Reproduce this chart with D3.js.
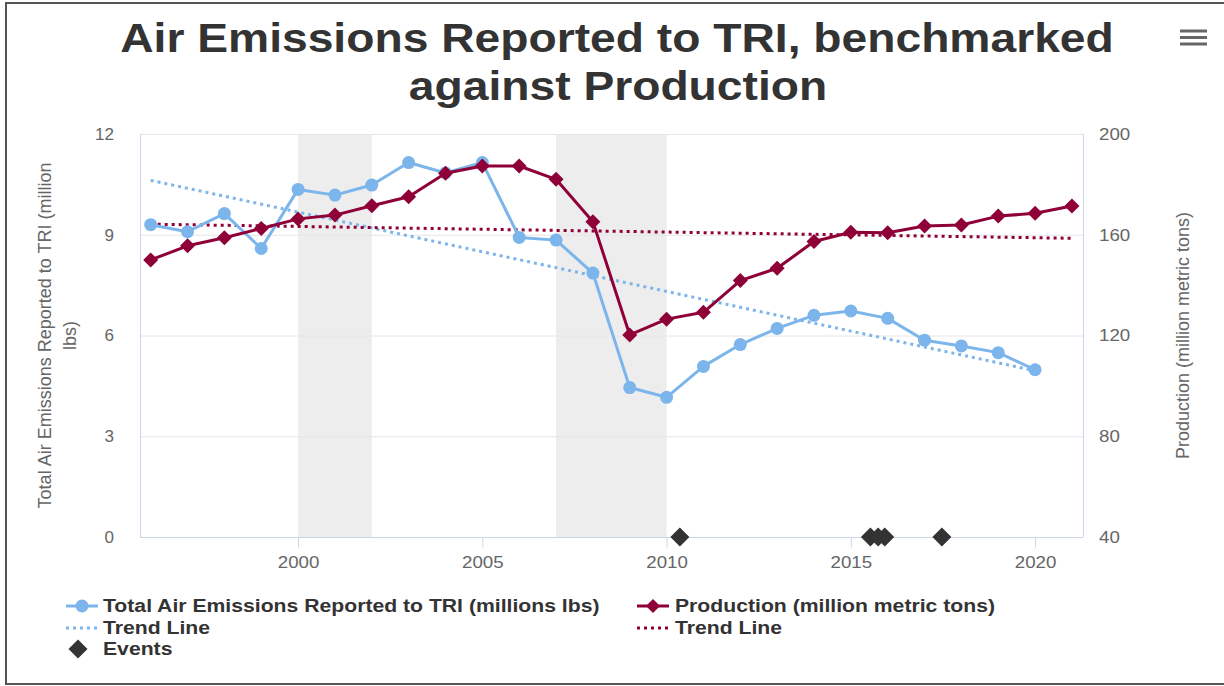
<!DOCTYPE html>
<html>
<head>
<meta charset="utf-8">
<script src="https://cdn.jsdelivr.net/npm/d3@7"></script>
<style>
  html, body { margin: 0; padding: 0; background: #fff; }
  svg { display: block; font-family: "Liberation Sans", Arial, sans-serif; }
</style>
</head>
<body>
<svg id="chart" width="1224" height="686"></svg>
<script>
// Data
const years = [1996, 1997, 1998, 1999, 2000, 2001, 2002, 2003, 2004, 2005, 2006, 2007, 2008,
  2009, 2010, 2011, 2012, 2013, 2014, 2015, 2016, 2017, 2018, 2019, 2020, 2021];
const emissions = [9.3, 9.09, 9.63, 8.59, 10.35, 10.18, 10.48, 11.15, 10.84, 11.15, 8.92, 8.84, 7.86,
  4.45, 4.16, 5.08, 5.73, 6.21, 6.6, 6.73, 6.51, 5.86, 5.69, 5.49, 4.98];
const production = [150.0, 155.6, 158.8, 162.5, 166.3, 167.8, 171.5, 175.1, 184.4, 187.3, 187.3, 182.0, 165.2,
  120.2, 126.5, 129.2, 141.8, 146.7, 157.3, 161.0, 160.8, 163.5, 163.9, 167.4, 168.5, 171.4];
const emissionsTrendYears = [1996, 2020];
const emissionsTrend = [10.62, 4.95];
const productionTrendYears = [1996, 2021];
const productionTrend = [164.2, 158.6];
const eventYears = [2010.36, 2015.53, 2015.74, 2015.92, 2017.47];
const bands = [[2000, 2002], [2007, 2010]];
const xTicks = [2000, 2005, 2010, 2015, 2020];
const leftTicks = [0, 3, 6, 9, 12];
const rightTicks = [40, 80, 120, 160, 200];

const blue = "#7cb5ec";
const red = "#8f0039";

const svg = d3.select("#chart");

// the source render is a bit wider than the fonts here, stretch text to fit
function stretch(sel, k) {
  sel.each(function() {
    const w = this.getComputedTextLength();
    d3.select(this).attr("textLength", w * k).attr("lengthAdjust", "spacingAndGlyphs");
  });
}

// Frame
svg.append("path")
  .attr("d", "M1224,3 H6 V684 H1224")
  .attr("fill", "none")
  .attr("stroke", "#555")
  .attr("stroke-width", 2);

const plot = { left: 140, right: 1083, top: 134, bottom: 537 };

const x = d3.scaleLinear().domain([1995.71, 2021.3]).range([plot.left, plot.right]);
const yL = d3.scaleLinear().domain([0, 12]).range([plot.bottom, plot.top]);
const yR = d3.scaleLinear().domain([40, 200]).range([plot.bottom, plot.top]);

// Title
const title = svg.append("g")
  .attr("fill", "#333")
  .attr("font-weight", "bold")
  .attr("font-size", 40)
  .attr("text-anchor", "middle");
title.append("text").attr("x", 617).attr("y", 52).text("Air Emissions Reported to TRI, benchmarked");
title.append("text").attr("x", 618).attr("y", 100).text("against Production");
stretch(title.selectAll("text"), 1.155);

// Menu icon
svg.append("g")
  .attr("stroke", "#666")
  .attr("stroke-width", 3)
  .selectAll("line")
  .data([31, 37.5, 44])
  .join("line")
  .attr("x1", 1180).attr("x2", 1207)
  .attr("y1", d => d).attr("y2", d => d);

// Shaded bands
svg.append("g")
  .selectAll("rect")
  .data(bands)
  .join("rect")
  .attr("x", d => x(d[0]))
  .attr("width", d => x(d[1]) - x(d[0]))
  .attr("y", plot.top)
  .attr("height", plot.bottom - plot.top)
  .attr("fill", "#ededed");

// Grid lines
svg.append("g")
  .selectAll("line")
  .data(leftTicks)
  .join("line")
  .attr("x1", plot.left).attr("x2", plot.right)
  .attr("y1", d => yL(d) + 0.5).attr("y2", d => yL(d) + 0.5)
  .attr("stroke", "#e6e6e6");

// Plot border sides
svg.append("line")
  .attr("x1", plot.left + 0.5).attr("x2", plot.left + 0.5)
  .attr("y1", plot.top).attr("y2", plot.bottom)
  .attr("stroke", "#ccd6eb");
svg.append("line")
  .attr("x1", plot.right + 0.5).attr("x2", plot.right + 0.5)
  .attr("y1", plot.top).attr("y2", plot.bottom)
  .attr("stroke", "#ccd6eb");

// X axis
const xAxis = svg.append("g")
  .attr("transform", `translate(0,${plot.bottom + 0.5})`)
  .call(d3.axisBottom(x).tickValues(xTicks).tickFormat(d3.format("d")).tickSize(10).tickPadding(8));
xAxis.select(".domain").attr("stroke", "#ccd6eb").attr("d", `M${plot.left},0H${plot.right}`);
xAxis.selectAll(".tick line").attr("stroke", "#ccd6eb");
xAxis.selectAll(".tick text")
  .attr("fill", "#666")
  .attr("font-size", 17)
  .attr("font-family", "'Liberation Sans', Arial, sans-serif");
stretch(xAxis.selectAll(".tick text"), 1.1);

// Left axis labels
const leftAxis = svg.append("g")
  .attr("transform", `translate(${plot.left},0)`)
  .call(d3.axisLeft(yL).tickValues(leftTicks).tickSize(0).tickPadding(26));
leftAxis.select(".domain").remove();
leftAxis.selectAll(".tick text")
  .attr("fill", "#666")
  .attr("font-size", 17)
  .attr("font-family", "'Liberation Sans', Arial, sans-serif");

// Right axis labels
const rightAxis = svg.append("g")
  .attr("transform", `translate(${plot.right},0)`)
  .call(d3.axisRight(yR).tickValues(rightTicks).tickSize(0).tickPadding(16));
rightAxis.select(".domain").remove();
rightAxis.selectAll(".tick text")
  .attr("fill", "#666")
  .attr("font-size", 17)
  .attr("font-family", "'Liberation Sans', Arial, sans-serif");
stretch(rightAxis.selectAll(".tick text"), 1.1);

// Axis titles
const leftTitle = svg.append("text")
  .attr("transform", `translate(0,${(plot.top + plot.bottom) / 2}) rotate(-90)`)
  .attr("text-anchor", "middle")
  .attr("fill", "#666")
  .attr("font-size", 18);
leftTitle.append("tspan").attr("x", 0).attr("y", 51).text("Total Air Emissions Reported to TRI (million");
leftTitle.append("tspan").attr("x", 0).attr("y", 76).text("lbs)");

svg.append("text")
  .attr("transform", `translate(1189,${(plot.top + plot.bottom) / 2}) rotate(-90)`)
  .attr("text-anchor", "middle")
  .attr("fill", "#666")
  .attr("font-size", 18)
  .text("Production (million metric tons)");

// Trend lines
const trendBlue = emissionsTrendYears.map((yr, i) => [yr, emissionsTrend[i]]);
const trendRed = productionTrendYears.map((yr, i) => [yr, productionTrend[i]]);

svg.append("path")
  .datum(trendBlue)
  .attr("fill", "none")
  .attr("stroke", blue)
  .attr("stroke-width", 3)
  .attr("stroke-dasharray", "3,4")
  .attr("d", d3.line().x(d => x(d[0])).y(d => yL(d[1])));

svg.append("path")
  .datum(trendRed)
  .attr("fill", "none")
  .attr("stroke", red)
  .attr("stroke-width", 3)
  .attr("stroke-dasharray", "3,4")
  .attr("d", d3.line().x(d => x(d[0])).y(d => yR(d[1])));

// Emissions series
const emData = emissions.map((v, i) => [years[i], v]);
svg.append("path")
  .datum(emData)
  .attr("fill", "none")
  .attr("stroke", blue)
  .attr("stroke-width", 3)
  .attr("stroke-linejoin", "round")
  .attr("d", d3.line().x(d => x(d[0])).y(d => yL(d[1])));
svg.append("g")
  .selectAll("circle")
  .data(emData)
  .join("circle")
  .attr("cx", d => x(d[0]))
  .attr("cy", d => yL(d[1]))
  .attr("r", 6.5)
  .attr("fill", blue);

// Production series
const prData = production.map((v, i) => [years[i], v]);
svg.append("path")
  .datum(prData)
  .attr("fill", "none")
  .attr("stroke", red)
  .attr("stroke-width", 3)
  .attr("stroke-linejoin", "round")
  .attr("d", d3.line().x(d => x(d[0])).y(d => yR(d[1])));

const diamond = r => `M0,${-r}L${r},0L0,${r}L${-r},0Z`;
svg.append("g")
  .selectAll("path")
  .data(prData)
  .join("path")
  .attr("transform", d => `translate(${x(d[0])},${yR(d[1])})`)
  .attr("d", diamond(7.5))
  .attr("fill", red);

// Events
svg.append("g")
  .selectAll("path")
  .data(eventYears)
  .join("path")
  .attr("transform", d => `translate(${x(d)},${yL(0)})`)
  .attr("d", diamond(9.5))
  .attr("fill", "#333");

// Legend
const legend = svg.append("g")
  .attr("font-size", 17.5)
  .attr("font-weight", "bold")
  .attr("fill", "#333");

function legendLine(g, x1, x2, y, color, dashed) {
  g.append("line")
    .attr("x1", x1).attr("x2", x2)
    .attr("y1", y).attr("y2", y)
    .attr("stroke", color)
    .attr("stroke-width", 3)
    .attr("stroke-dasharray", dashed ? "3,4" : null);
}

legendLine(legend, 66, 98, 606, blue, false);
legend.append("circle").attr("cx", 82).attr("cy", 606).attr("r", 6.5).attr("fill", blue);
legend.append("text").attr("x", 103).attr("y", 612).text("Total Air Emissions Reported to TRI (millions lbs)");

legendLine(legend, 66, 98, 628, blue, true);
legend.append("text").attr("x", 103).attr("y", 634).text("Trend Line");

legend.append("path").attr("transform", "translate(78,649)").attr("d", diamond(9.5)).attr("fill", "#333");
legend.append("text").attr("x", 103).attr("y", 655).text("Events");

legendLine(legend, 637, 669, 606, red, false);
legend.append("path").attr("transform", "translate(653,606)").attr("d", diamond(7)).attr("fill", red);
legend.append("text").attr("x", 675).attr("y", 612).text("Production (million metric tons)");

legendLine(legend, 637, 669, 628, red, true);
legend.append("text").attr("x", 675).attr("y", 634).text("Trend Line");

stretch(legend.selectAll("text"), 1.21);
</script>
</body>
</html>
